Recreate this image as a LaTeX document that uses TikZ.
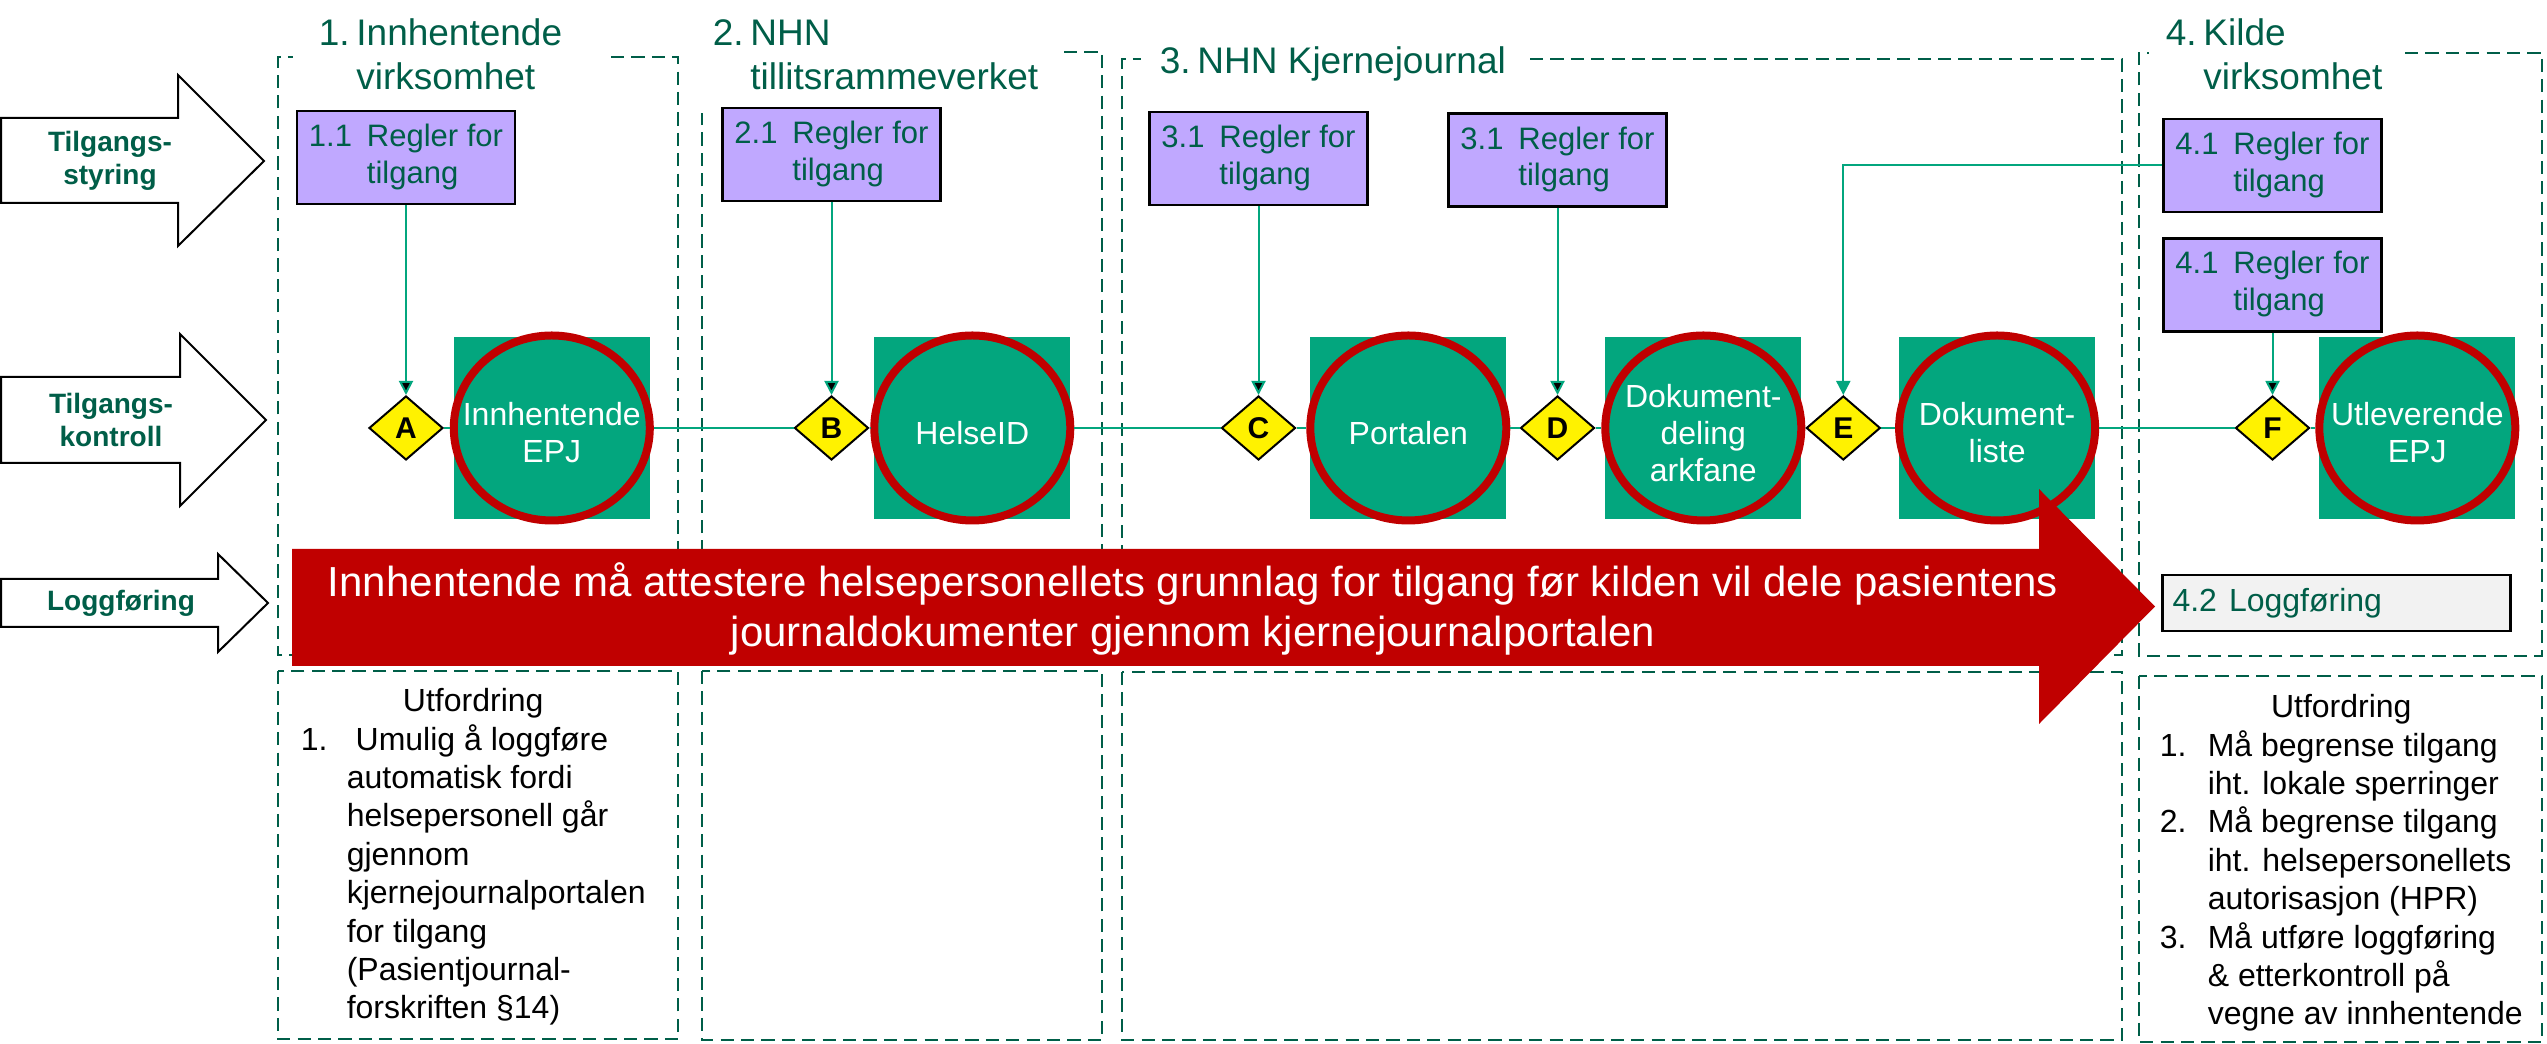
\documentclass[tikz,border=0pt]{standalone}
\usepackage{fontspec}
\setmainfont{Liberation Sans}
\usetikzlibrary{arrows.meta, positioning, shapes.geometric}

\definecolor{nhngreen}{RGB}{0,94,72}
\definecolor{nhnteal}{RGB}{3,166,126}
\definecolor{nhnred}{RGB}{192,0,0}
\definecolor{nhnlilla}{RGB}{192,168,255}
\definecolor{nhngrey}{RGB}{242,242,242}

\newcommand{\tittel}[2]{\begin{tabular}{@{}p{9.4pt}@{}l@{}}#1&#2\end{tabular}}
\newcommand{\regeltekst}[1]{\begin{tabular}{@{}p{14.5pt}@{}l@{}}#1&Regler for\\&tilgang\end{tabular}}

\tikzstyle{lane}=[draw=nhngreen, line width=0.65pt, dash pattern=on 3.3pt off 1.8pt]
\tikzstyle{lanetitle}=[anchor=north west, inner sep=0pt, text=nhngreen, font=\fontsize{9.25}{11}\selectfont]
\tikzstyle{regel}=[rectangle, draw=black, line width=0.6pt, fill=nhnlilla, text=nhngreen, minimum width=54.5pt, minimum height=23.25pt, inner sep=0pt, font=\fontsize{7.75}{9.15}\selectfont]
\tikzstyle{boks}=[rectangle, fill=nhnteal, minimum width=49pt, minimum height=45.5pt, inner sep=0pt]
\tikzstyle{system}=[ellipse, draw=nhnred, line width=2pt, fill=nhnteal, minimum width=49pt, minimum height=46.25pt, inner sep=0pt]
\tikzstyle{systext}=[text=white, align=center, font=\fontsize{8}{9.3}\selectfont, yshift=-1.2pt]
\tikzstyle{kontroll}=[diamond, draw=black, line width=0.5pt, fill=yellow, minimum width=18.5pt, minimum height=16pt, inner sep=0pt, font=\bfseries\fontsize{7.5}{8}\selectfont]
\tikzstyle{flyt}=[draw=nhnteal, line width=0.5pt]
\tikzstyle{blokkpil}=[draw=black, line width=0.5pt, fill=white]
\tikzstyle{piltekst}=[text=nhngreen, align=center, font=\bfseries\fontsize{7}{8.3}\selectfont]
\tikzstyle{bannertekst}=[text=white, align=center, font=\fontsize{10.5}{12.5}\selectfont]
\tikzstyle{logg}=[rectangle, draw=black, line width=0.6pt, fill=nhngrey, text=nhngreen, minimum height=13.5pt, text width=82pt, inner xsep=2.5pt, align=left, font=\fontsize{8}{9.6}\selectfont]
\tikzstyle{utfordring}=[anchor=north west, inner sep=0pt, font=\fontsize{8}{9.6}\selectfont]

\begin{document}
\begin{tikzpicture}[x=0.25pt, y=-0.25pt]
  \useasboundingbox (0,0) rectangle (2547,1044);
  \coordinate (rad) at (0,428);

  % venstre blokkpiler
  \draw[blokkpil] (1,118) -- (178,118) -- (178,75) -- (264,161) -- (178,246) -- (178,203) -- (1,203) -- cycle;
  \node[piltekst] (pilstyring) at (110,161) {Tilgangs-\\styring};
  \draw[blokkpil] (1,377) -- (180,377) -- (180,334) -- (266,420) -- (180,506) -- (180,463) -- (1,463) -- cycle;
  \node[piltekst] (pilkontroll) at (111,420) {Tilgangs-\\kontroll};
  \draw[blokkpil] (1,579) -- (218,579) -- (218,554) -- (268,603) -- (218,652) -- (218,627) -- (1,627) -- cycle;
  \node[piltekst] (pillogg) at (121,603) {Loggføring};

  % rammer
  \draw[lane] (611,57) -- (678,57) -- (678,655) -- (278,655) -- (278,57) -- (293,57);
  \draw[lane] (1064,52) -- (1102,52) -- (1102,655) -- (702,655) -- (702,113);
  \draw[lane] (1530,59) -- (2122,59) -- (2122,655) -- (1122,655) -- (1122,59) -- (1141,59);
  \draw[lane] (2405,53) -- (2542,53) -- (2542,656) -- (2139,656) -- (2139,53) -- (2149,53);
  \draw[lane] (278,671) rectangle (678,1039);
  \draw[lane] (702,671) rectangle (1102,1040);
  \draw[lane] (1122,672) rectangle (2122,1040);
  \draw[lane] (2139,676) rectangle (2542,1042);

  \node[lanetitle] (t1) at (318,14) {\tittel{1.}{Innhentende\\&virksomhet}};
  \node[lanetitle] (t2) at (712,14) {\tittel{2.}{NHN\\&tillitsrammeverket}};
  \node[lanetitle] (t3) at (1159,42) {\tittel{3.}{NHN Kjernejournal}};
  \node[lanetitle] (t4) at (2165,14) {\tittel{4.}{Kilde\\&virksomhet}};

  % regler for tilgang
  \node[regel] (r11) at (406,157.5) {\regeltekst{1.1}};
  \node[regel] (r21) at (831.5,154.5) {\regeltekst{2.1}};
  \node[regel] (r31a) at (1258.5,158.5) {\regeltekst{3.1}};
  \node[regel] (r31b) at (1557.5,160) {\regeltekst{3.1}};
  \node[regel] (r41a) at (2272.5,165.5) {\regeltekst{4.1}};
  \node[regel] (r41b) [below=6pt of r41a] {\regeltekst{4.1}};

  % kontrollpunkter og systemer
  \node[kontroll] (A) at (r11 |- rad) {A};
  \node[boks] (sq1) [right=2.25pt of A] {};
  \node[system, label={[systext]center:Innhentende\\EPJ}] (epj1) at (sq1) {};
  \node[kontroll] (B) at (r21 |- rad) {B};
  \node[boks] (sq2) [right=1pt of B] {};
  \node[system, label={[systext]center:HelseID}] (helseid) at (sq2) {};
  \node[kontroll] (C) at (r31a |- rad) {C};
  \node[boks] (sq3) [right=3.25pt of C] {};
  \node[system, label={[systext]center:Portalen}] (portal) at (sq3) {};
  \node[kontroll] (D) at (r31b |- rad) {D};
  \node[boks] (sq4) [right=2.25pt of D] {};
  \node[system, label={[systext]center:Dokument-\\deling\\arkfane}] (dokdel) at (sq4) {};
  \node[kontroll] (E) [right=0pt of dokdel] {E};
  \node[boks] (sq5) [right=4.25pt of E] {};
  \node[system, label={[systext]center:Dokument-\\liste}] (dokliste) at (sq5) {};
  \node[kontroll] (F) at (r41b |- rad) {F};
  \node[boks] (sq6) [right=2pt of F] {};
  \node[system, label={[systext]center:Utleverende\\EPJ}] (epj2) at (sq6) {};

  \path[flyt] (A) edge (epj1) (epj1) edge (B) (B) edge (helseid) (helseid) edge (C)
    (C) edge (portal) (portal) edge (D) (D) edge (dokdel) (dokdel) edge (E)
    (E) edge (dokliste) (dokliste) edge (F) (F) edge (epj2);
  \path[flyt, -{Triangle[length=3.5pt, width=3.5pt]}] (r11) edge (A) (r21) edge (B)
    (r31a) edge (C) (r31b) edge (D) (r41b) edge (F);
  \draw[flyt, -{Triangle[length=3.5pt, width=3.5pt]}] (r41a.west) -| (E.north);

  % banner
  \fill[nhnred] (292,549) -- (2039,549) -- (2039,489) -- (2155,606.5) -- (2039,724) -- (2039,666) -- (292,666) -- cycle;
  \node[bannertekst] (banner) at (1193,609) {Innhentende må attestere helsepersonellets grunnlag for tilgang før kilden vil dele pasientens\\journaldokumenter gjennom kjernejournalportalen};

  \node[logg] (l42) at (2336.5,603) {4.2\hspace{3pt}Loggføring};

  % utfordringer
  \node[utfordring] (u1) at (300,684) {\begin{tabular}{@{}p{11.5pt}@{}l@{}}
    \multicolumn{2}{c}{Utfordring}\\
    1.&\ Umulig å loggføre\\
    &automatisk fordi\\
    &helsepersonell går\\
    &gjennom\\
    &kjernejournalportalen\\
    &for tilgang\\
    &(Pasientjournal-\\
    &forskriften §14)
  \end{tabular}};
  \node[utfordring] (u4) at (2159,690) {\begin{tabular}{@{}p{12pt}@{}l@{}}
    \multicolumn{2}{c}{Utfordring}\\
    1.&Må begrense tilgang\\
    &iht. lokale sperringer\\
    2.&Må begrense tilgang\\
    &iht. helsepersonellets\\
    &autorisasjon (HPR)\\
    3.&Må utføre loggføring\\
    &\& etterkontroll på\\
    &vegne av innhentende
  \end{tabular}};
\end{tikzpicture}
\end{document}
